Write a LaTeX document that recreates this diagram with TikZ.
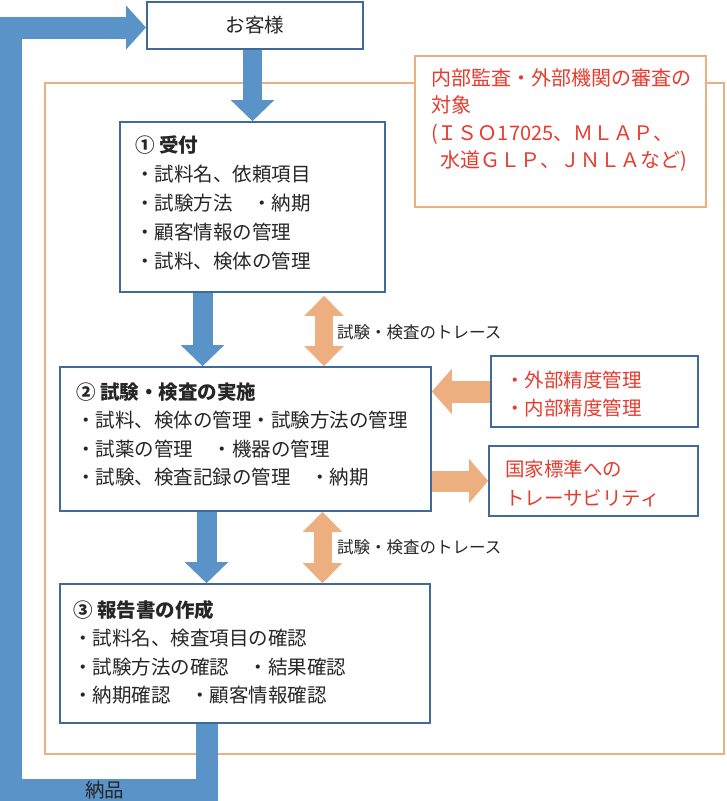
\documentclass[tikz,border=0pt]{standalone}
\usepackage{fontspec}
\setmainfont{Noto Sans CJK JP}
\usetikzlibrary{arrows.meta,positioning,calc}
\definecolor{FlowBlue}{HTML}{5A93C8}
\definecolor{FrameBlue}{HTML}{41699A}
\definecolor{TraceOrange}{HTML}{EDAE80}
\definecolor{NoteRed}{HTML}{E63B2E}
\definecolor{InkGray}{HTML}{262626}

\begin{document}
\begin{tikzpicture}[x=1pt,y=-1pt,
  stepbox/.style={draw=FrameBlue,line width=1.6pt,fill=white,inner sep=0pt},
  notebox/.style={draw=TraceOrange,line width=2pt,fill=white,inner sep=0pt},
  bodytext/.style={anchor=base west,align=left,inner sep=0pt,text=InkGray,font=\fontsize{19.5}{28.4}\selectfont},
  redtext/.style={bodytext,text=NoteRed},
  tracelabel/.style={anchor=base west,inner sep=0pt,text=InkGray,font=\fontsize{16.5}{20}\selectfont},
  flowarrow/.style={draw=FlowBlue,line width=20pt,line join=miter,-{Triangle[length=21pt,width=42pt]}},
  tracearrow/.style={draw=TraceOrange,line width=18pt,{Triangle[length=20pt,width=38pt]}-{Triangle[length=20pt,width=38pt]}},
  sidearrow/.style={draw=TraceOrange,line width=22pt,-{Triangle[length=20pt,width=44pt]}}]
\useasboundingbox (0,0) rectangle (726,801);

% frame of the audited area
\draw[TraceOrange,line width=2pt] (45,83) rectangle (724,754);

\coordinate (loopBR) at (206.5,789.5);
\coordinate (loopBL) at (11,789.5);
\coordinate (loopTL) at (11,27.5);
\coordinate (flowA) at (202.5,0);
\coordinate (traceA) at (324,0);
\coordinate (traceB) at (322.5,0);

% boxes
\node[stepbox,line width=2pt,minimum width=216pt,minimum height=47pt,font=\fontsize{19.5}{24}\selectfont,text=InkGray] (kyaku) at (255,25) {お客様};
\node[stepbox,minimum width=265pt,minimum height=170pt] (uketsuke) at (252.5,207) {};
\node[stepbox,minimum width=371pt,minimum height=144pt] (jisshi) at (245.5,439) {};
\node[stepbox,minimum width=370pt,minimum height=139pt] (houkoku) at (245,653.5) {};
\node[notebox,minimum width=291pt,minimum height=151pt] (kansa) at (560.5,131.5) {};
\node[stepbox,minimum width=207pt,minimum height=71pt] (seido) at (594.5,391.5) {};
\node[stepbox,minimum width=209pt,minimum height=70pt] (kokka) at (593.5,481) {};

% texts (placed by the baseline of their last line)
\node[bodytext,font=\fontsize{19.5}{29}\selectfont] (uketsukeText) at (135,268.5)
  {\textbf{① 受付}\\・試料名、依頼項目\\・試験方法　・納期\\・顧客情報の管理\\・試料、検体の管理};
\node[bodytext] (jisshiText) at (76,484.7)
  {\textbf{② 試験・検査の実施}\\・試料、検体の管理・試験方法の管理\\・試薬の管理　・機器の管理\\・試験、検査記録の管理　・納期};
\node[bodytext] (houkokuText) at (73,702.7)
  {\textbf{③ 報告書の作成}\\・試料名、検査項目の確認\\・試験方法の確認　・結果確認\\・納期確認　・顧客情報確認};
\node[redtext,font=\fontsize{20}{27.3}\selectfont] (kansaText) at (431,167.4)
  {内部監査・外部機関の審査の\\対象\\(ＩＳＯ17025、ＭＬＡＰ、\\\hspace*{9pt}水道ＧＬＰ、ＪＮＬＡなど)};
\node[redtext,font=\fontsize{19.5}{28}\selectfont] (seidoText) at (505,415.5)
  {・外部精度管理\\・内部精度管理};
\node[redtext,font=\fontsize{19.5}{29}\selectfont] (kokkaText) at (505,505.5)
  {国家標準への\\トレーサビリティ};
\node[tracelabel] (traceAText) at (337,338) {試験・検査のトレース};
\node[tracelabel] (traceBText) at (337,553) {試験・検査のトレース};

% flow arrows
\draw[flowarrow,line width=19pt] (kyaku.south -| uketsuke.north) -- (uketsuke.north);
\draw[flowarrow] (uketsuke.south -| flowA) -- (jisshi.north -| flowA);
\draw[flowarrow] (jisshi.south -| loopBR) -- (houkoku.north -| loopBR);
\draw[flowarrow,line width=22pt,-{Triangle[length=20pt,width=43pt]}]
  (houkoku.south -| loopBR) -- (loopBR) -- (loopBL) -- (loopTL) -- (loopTL -| kyaku.west);
\node[anchor=base west,inner sep=0pt,text=InkGray,font=\fontsize{19.5}{24}\selectfont] (nouhin) at (85,797) {納品};

% trace arrows
\draw[tracearrow] ([yshift=-3pt]uketsuke.south -| traceA) -- (jisshi.north -| traceA);
\draw[tracearrow] (jisshi.south -| traceB) -- (houkoku.north -| traceB);
\draw[sidearrow] (seido.west) -- (seido.west -| jisshi.east);
\draw[sidearrow,line width=21pt,-{Triangle[length=19pt,width=43pt]}] (kokka.west -| jisshi.east) -- (kokka.west);
\end{tikzpicture}
\end{document}
